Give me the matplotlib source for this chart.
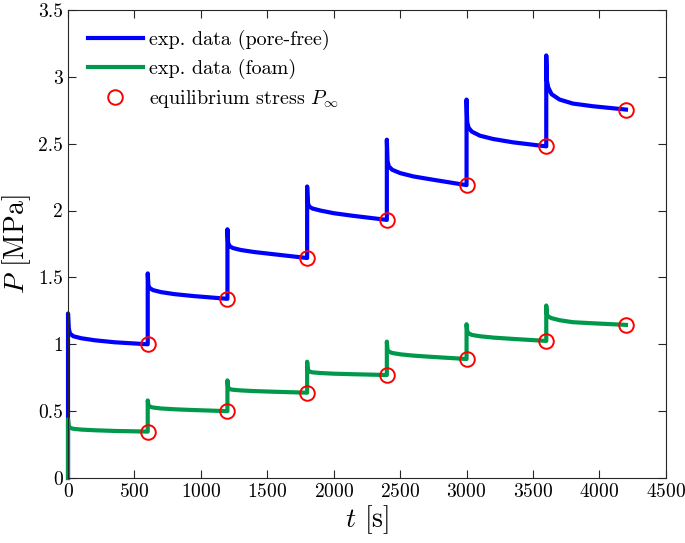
import matplotlib
matplotlib.use("Agg")
import matplotlib.pyplot as plt

plt.rcParams['font.family'] = ['cmr10', 'DejaVu Serif']
plt.rcParams['mathtext.fontset'] = 'cm'
plt.rcParams['axes.formatter.use_mathtext'] = True

# step start times [s] and sample offsets within each 600 s hold
step_times = [0, 600, 1200, 1800, 2400, 3000, 3600]
offsets = [0, 0, 5, 15, 40, 100, 200, 350, 600]

# pore-free samples per step
pore_free_steps = [
    [0.00, 1.23, 1.12, 1.08, 1.06, 1.045, 1.03, 1.015, 1.00],
    [1.00, 1.53, 1.44, 1.42, 1.405, 1.39, 1.375, 1.36, 1.34],
    [1.34, 1.86, 1.76, 1.735, 1.72, 1.705, 1.69, 1.673, 1.645],
    [1.645, 2.18, 2.06, 2.03, 2.015, 2.00, 1.98, 1.96, 1.93],
    [1.93, 2.53, 2.37, 2.33, 2.305, 2.28, 2.255, 2.23, 2.19],
    [2.19, 2.83, 2.66, 2.62, 2.59, 2.56, 2.535, 2.51, 2.48],
    [2.48, 3.16, 2.97, 2.92, 2.87, 2.83, 2.80, 2.78, 2.755],
]

# foam samples per step
foam_steps = [
    [0.00, 0.44, 0.39, 0.375, 0.368, 0.362, 0.357, 0.352, 0.347],
    [0.347, 0.58, 0.545, 0.533, 0.527, 0.52, 0.514, 0.508, 0.50],
    [0.50, 0.73, 0.68, 0.665, 0.66, 0.655, 0.65, 0.645, 0.638],
    [0.638, 0.87, 0.81, 0.797, 0.79, 0.785, 0.78, 0.776, 0.77],
    [0.77, 1.02, 0.96, 0.945, 0.935, 0.925, 0.915, 0.905, 0.89],
    [0.89, 1.15, 1.10, 1.082, 1.07, 1.06, 1.05, 1.04, 1.025],
    [1.025, 1.29, 1.225, 1.207, 1.195, 1.18, 1.165, 1.157, 1.145],
]

# equilibrium stress points
eq_t = [600, 1200, 1800, 2400, 3000, 3600, 4200]
eq_pore_free = [1.00, 1.34, 1.645, 1.93, 2.19, 2.48, 2.755]
eq_foam = [0.347, 0.50, 0.638, 0.77, 0.89, 1.025, 1.145]

t = []
p_pf = []
p_fo = []
for T, pf, fo in zip(step_times, pore_free_steps, foam_steps):
    t += [T + o for o in offsets]
    p_pf += pf
    p_fo += fo

fig = plt.figure(figsize=(6.85, 5.43), dpi=100)
ax = fig.add_axes([0.0993, 0.1197, 0.8727, 0.862])

ax.plot(t, p_pf, color='#0000ff', lw=3, label='exp. data (pore-free)', clip_on=False)
ax.plot(t, p_fo, color='#00994c', lw=3, label='exp. data (foam)', clip_on=False)
ax.plot(eq_t, eq_pore_free, 'o', ms=10.5, mfc='none', mec='#ff0000', mew=1.4,
        label=r'equilibrium stress $P_\infty$')
ax.plot(eq_t, eq_foam, 'o', ms=10.5, mfc='none', mec='#ff0000', mew=1.4)

ax.set_xlim(0, 4500)
ax.set_ylim(0, 3.5)
ax.set_xticks(range(0, 4501, 500))
ax.set_yticks([0, 0.5, 1, 1.5, 2, 2.5, 3, 3.5])
ax.set_yticklabels(['0', '0.5', '1', '1.5', '2', '2.5', '3', '3.5'])
ax.tick_params(direction='in', top=True, right=True, labelsize=14,
               color='#262626', length=5.5)
for s in ax.spines.values():
    s.set_color('#262626')
    s.set_linewidth(0.8)

ax.set_xlabel(r'$t$ [s]', fontsize=20, labelpad=2)
ax.set_ylabel(r'$P$ [MPa]', fontsize=20, labelpad=4)

ax.legend(loc='upper left', frameon=False, fontsize=14.5, handlelength=2.7,
          handletextpad=0.3, labelspacing=0.45, borderaxespad=0.6)

fig.savefig('out.png', dpi=100)
